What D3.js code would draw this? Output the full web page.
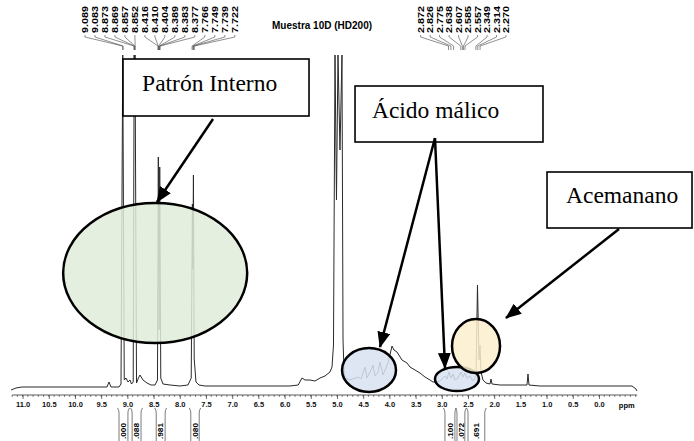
<!DOCTYPE html>
<html><head><meta charset="utf-8">
<script src="https://cdn.jsdelivr.net/npm/d3@7"></script>
<style>body{margin:0;background:#fff}svg{display:block}</style>
</head><body>
<svg id="c" width="694" height="441"></svg>
<script>
// ---- data ----
const title = "Muestra 10D (HD200)";
const spectrumPpm = [11.221,11.126,11.011,10.286,9.523,9.389,9.351,9.313,9.160,9.122,9.089,9.060,9.027,8.989,8.950,8.922,8.889,8.871,8.863,8.854,8.826,8.798,8.760,8.702,8.626,8.550,8.473,8.426,8.410,8.395,8.383,8.363,8.321,8.187,7.996,7.844,7.782,7.760,7.752,7.740,7.725,7.691,7.634,7.519,6.660,5.897,5.740,5.668,5.611,5.515,5.420,5.324,5.229,5.134,5.095,5.067,5.038,5.010,4.981,4.943,4.905,4.885,4.866,4.847,4.752,4.599,4.542,4.466,4.427,4.370,4.313,4.275,4.218,4.179,4.122,4.027,3.950,3.912,3.855,3.760,3.664,3.607,3.511,3.416,3.321,3.225,3.168,3.092,3.034,2.939,2.901,2.863,2.824,2.786,2.748,2.691,2.634,2.595,2.557,2.519,2.462,2.424,2.385,2.347,2.319,2.290,2.271,2.252,2.214,2.156,2.080,2.061,2.042,1.889,1.508,1.374,1.355,1.336,1.126,0.744,-0.019,-0.401,-0.630,-0.706,-0.725];
const spectrumIntensity = [-1,1,2,2,2,2,7,2,2,5,334,9,11,7,9,5,7,334,280,334,6,10,14,9,6,4,4,9,232,59,222,11,5,4,3,4,11,185,120,214,30,7,4,3,3,3,4,11,9,9,8,11,13,17,22,44,334,189,334,239,334,49,17,11,9,12,10,22,11,17,24,13,17,27,14,26,43,39,37,29,26,22,19,16,12,9,7,7,8,13,10,17,11,15,9,11,17,12,16,11,13,9,9,14,104,29,44,17,9,6,5,10,5,4,4,4,15,4,3,3,3,3,3,0,-2];
const peakLabelsLeft = ["9.089","9.083","8.873","8.869","8.857","8.852","8.416","8.410","8.404","8.389","8.383","8.377","7.766","7.749","7.739","7.722"];
const peakLabelsRight = ["2.872","2.826","2.775","2.638","2.607","2.585","2.557","2.349","2.314","2.270"];
const majorTicks = [11.0,10.5,10.0,9.5,9.0,8.5,8.0,7.5,7.0,6.5,6.0,5.5,5.0,4.5,4.0,3.5,3.0,2.5,2.0,1.5,1.0,0.5,0.0];
const integralFrom = [9.16,8.91,8.45,7.79,2.94,2.71,2.50];
const integralTo   = [8.99,8.74,8.28,7.63,2.75,2.56,2.18];
const integralValues = [".000",".088",".981",".080",".100",".072",".691"];
const annotationTexts = ["Patrón Interno","Ácido málico","Acemanano"];

// ---- layout ----
const svg = d3.select("#c");
const x = d3.scaleLinear().domain([11.0, 0.0]).range([22.6, 599]);
const y = d3.scaleLinear().domain([0, 334]).range([389, 55]);
const axisY = 395;
const sans = "'Liberation Sans Narrow','Arial Narrow','Liberation Sans',Arial,sans-serif";
const serif = "'Liberation Serif','Times New Roman',serif";

// spectrum
const pts = spectrumPpm.map((p,i)=>[p, spectrumIntensity[i]]);
svg.append("path").datum(pts)
  .attr("d", d3.line().x(d=>x(d[0])).y(d=>y(d[1])))
  .attr("fill","none").attr("stroke","#2a2a2a").attr("stroke-width",1);

// title
svg.append("text").attr("x", x(5.286)).attr("y", 29).attr("text-anchor","middle")
  .attr("font-family","'Liberation Sans',Arial,sans-serif").attr("font-weight","bold")
  .attr("font-size","10px").text(title);

// peak labels
function peakGroup(labels, p0, p1){
  const lx = d3.scaleLinear().domain([0, labels.length-1]).range([x(p0), x(p1)]);
  labels.forEach((t,i)=>{
    const X = lx(i), P = x(+t);
    svg.append("path").attr("d",`M${X},35 L${X},37 L${P},46 L${P},50`)
      .attr("fill","none").attr("stroke","#444").attr("stroke-width",0.6);
    svg.append("text").attr("transform",`translate(${X},33) rotate(-90)`)
      .attr("dy","0.35em").attr("font-family",sans).attr("font-weight","bold")
      .attr("font-size","9px").attr("textLength",27).attr("lengthAdjust","spacingAndGlyphs")
      .text(t);
  });
}
peakGroup(peakLabelsLeft, 9.81, 6.95);
peakGroup(peakLabelsRight, 3.403, 1.775);

// axis
const ax = svg.append("g").attr("transform",`translate(0,${axisY})`)
  .call(d3.axisBottom(x).tickValues(majorTicks).tickFormat(d3.format(".1f")).tickSize(4).tickSizeOuter(0).tickPadding(3));
ax.select(".domain").remove();
ax.selectAll("text").attr("font-family",sans).attr("font-weight","bold").attr("font-size","7.5px").attr("fill","#111");
ax.selectAll("line").attr("stroke","#333").attr("stroke-width",0.7);
svg.append("line").attr("x1",x(11.2)).attr("x2",x(-0.73)).attr("y1",axisY).attr("y2",axisY)
  .attr("stroke","#333").attr("stroke-width",0.8);
const minor = d3.range(-7, 113).map(v=>v/10);
svg.append("g").selectAll("line").data(minor).join("line")
  .attr("x1",d=>x(d)).attr("x2",d=>x(d)).attr("y1",axisY).attr("y2",axisY+2)
  .attr("stroke","#333").attr("stroke-width",0.6);
svg.append("text").attr("x",x(-0.53)).attr("y",axisY+13).attr("text-anchor","middle")
  .attr("font-family",sans).attr("font-weight","bold").attr("font-size","7.5px").text("ppm");

// integrals
integralValues.forEach((v,i)=>{
  const xl = x(integralFrom[i]), xr = x(integralTo[i]);
  svg.append("path").attr("d",`M${xl},441 L${xl},413 Q${xl},410 ${xl-1.5},408 M${xr},441 L${xr},413 Q${xr},410 ${xr+1.5},408`)
    .attr("fill","none").attr("stroke","#444").attr("stroke-width",0.7);
  svg.append("text").attr("transform",`translate(${(xl+xr)/2},423) rotate(-90)`)
    .attr("text-anchor","end").attr("dy","0.35em").attr("font-family",sans).attr("font-weight","bold")
    .attr("font-size","8px").attr("textLength",16).attr("lengthAdjust","spacingAndGlyphs").text(v);
});

// annotation boxes (white, hide spectrum behind)
const boxes = [
  {p0:9.084,p1:5.534,i0:330,i1:273,tp:8.72,ti:298},
  {p0:4.656,p1:1.069,i0:303,i1:247,tp:4.333,ti:271},
  {p0:0.992,p1:-1.775,i0:217,i1:161,tp:0.630,ti:186}
];
boxes.forEach((b,i)=>{
  svg.append("rect").attr("x",x(b.p0)).attr("y",y(b.i0)).attr("width",x(b.p1)-x(b.p0)).attr("height",y(b.i1)-y(b.i0))
    .attr("fill","#fff").attr("stroke","#000").attr("stroke-width",1.6);
  svg.append("text").attr("x",x(b.tp)).attr("y",y(b.ti)).attr("font-family",serif)
    .attr("font-size","23.5px").attr("fill","#000").text(annotationTexts[i]);
});

// ellipses
const ellipses = [
  {p:8.47,i:116,rp:1.756,ri:70,fill:"#e0ecd9"},
  {p:4.389,i:19,rp:0.515,ri:22,fill:"#d7e2f0"},
  {p:2.71,i:10,rp:0.42,ri:12,fill:"#d7e2f0"},
  {p:2.347,i:43,rp:0.458,ri:27,fill:"#fdeece"}
];
ellipses.forEach(e=>{
  svg.append("ellipse").attr("cx",x(e.p)).attr("cy",y(e.i))
    .attr("rx",Math.abs(x(e.p+e.rp)-x(e.p))).attr("ry",e.ri)
    .attr("fill",e.fill).attr("fill-opacity",0.85).attr("stroke","#000").attr("stroke-width",2.5);
});

// arrows
svg.append("defs").append("marker").attr("id","ah").attr("markerUnits","userSpaceOnUse")
  .attr("markerWidth",16).attr("markerHeight",13).attr("refX",15).attr("refY",6.5).attr("orient","auto")
  .append("path").attr("d","M0,0 L16,6.5 L0,13 Z").attr("fill","#000");
const arrows = [
  {p0:7.366,i0:270,p1:8.435,i1:187},
  {p0:3.130,i0:251,p1:4.179,i1:42},
  {p0:3.130,i0:251,p1:2.939,i1:21},
  {p0:-0.382,i0:160,p1:1.775,i1:71}
];
arrows.forEach(a=>{
  svg.append("line").attr("x1",x(a.p0)).attr("y1",y(a.i0)).attr("x2",x(a.p1)).attr("y2",y(a.i1))
    .attr("stroke","#000").attr("stroke-width",2.5).attr("marker-end","url(#ah)");
});
</script>
</body></html>
